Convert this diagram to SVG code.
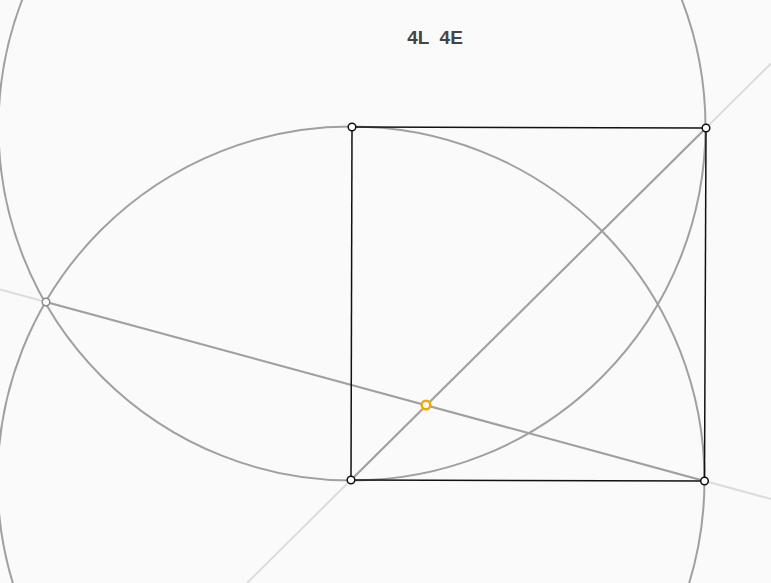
<svg xmlns="http://www.w3.org/2000/svg" width="771" height="583" viewBox="0 0 771 583">
<style>
.circ{fill:none;stroke:#a0a0a0;stroke-width:2}
.ext{stroke:#dcdcdc;stroke-width:2;fill:none}
.seg{stroke:#a0a0a0;stroke-width:2;fill:none}
.edge{stroke:#111;stroke-width:1.5;fill:none}
.pt{fill:#fff;stroke:#111;stroke-width:1.5}
.title{font-family:"Liberation Sans",Arial,sans-serif;font-weight:bold;font-size:19px;fill:#444}
</style>
<rect width="771" height="583" fill="#fafafa"/>
<g id="connectors">
<line class="ext" x1="247" y1="583" x2="771" y2="63.5"/>
<line class="ext" x1="0" y1="289.5" x2="771" y2="499"/>
<circle class="circ" cx="351" cy="480" r="353.5"/>
<circle class="circ" cx="352" cy="127" r="353.5"/>
<line class="seg" x1="351" y1="480" x2="706" y2="128"/>
<line class="seg" x1="46" y1="302" x2="704.5" y2="481"/>
<line class="edge" x1="352" y1="127" x2="706" y2="128"/>
<line class="edge" x1="706" y1="128" x2="704.5" y2="481"/>
<line class="edge" x1="704.5" y1="481" x2="351" y2="480"/>
<line class="edge" x1="351" y1="480" x2="352" y2="127"/>
</g>
<g id="p1"><circle class="pt" cx="352" cy="127" r="3.8"/></g>
<g id="p2"><circle class="pt" cx="706" cy="128" r="3.8"/></g>
<g id="p3"><circle class="pt" cx="704.5" cy="481" r="3.8"/></g>
<g id="p4"><circle class="pt" cx="351" cy="480" r="3.8"/></g>
<g id="p5"><circle cx="46" cy="302" r="3.8" fill="#fff" stroke="#888" stroke-width="1.5"/></g>
<g id="p6"><circle cx="426" cy="405" r="4.3" fill="#fff" stroke="#f5a800" stroke-width="2.4"/></g>
<g id="title"><text class="title" x="435" y="44" text-anchor="middle" xml:space="preserve">4L  4E</text></g>
</svg>
